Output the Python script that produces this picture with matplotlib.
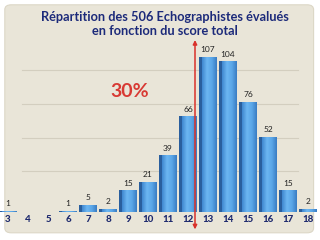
import matplotlib
matplotlib.use("Agg")
import matplotlib.pyplot as plt
from matplotlib.patches import FancyBboxPatch
from matplotlib.colors import LinearSegmentedColormap
import numpy as np

scores = [3, 4, 5, 6, 7, 8, 9, 10, 11, 12, 13, 14, 15, 16, 17, 18]
counts = [1, 0, 0, 1, 5, 2, 15, 21, 39, 66, 107, 104, 76, 52, 15, 2]
title = "Répartition des 506 Echographistes évalués\nen fonction du score total"
annotation = "30%"
grid_values = [28, 51, 74.5, 98]

plt.rcParams['font.family'] = ['Lato', 'DejaVu Sans']

fig = plt.figure(figsize=(3.2, 2.4), dpi=100)
fig.patch.set_facecolor('white')
panel = FancyBboxPatch((0.015, 0.03), 0.965, 0.95, boxstyle="round,pad=0,rounding_size=0.02",
                       transform=fig.transFigure, facecolor='#e9e5d8', edgecolor='#dcd7c6',
                       linewidth=0.8, zorder=-5)
fig.patches.append(panel)

ax = fig.add_axes([0, 0.1167, 1, 0.7167])
ax.set_zorder(2)
ax.set_facecolor('none')
ax.set_xlim(2.6, 18.6)
ax.set_ylim(0, 118.6)
for s in ax.spines.values():
    s.set_visible(False)
ax.set_yticks([])
for g in grid_values:
    ax.axhline(g, xmin=0.07, xmax=0.93, color='#d3cebf', linewidth=0.8, zorder=1)

x = np.array(scores, dtype=float)
cmap = LinearSegmentedColormap.from_list('bar', ['#3f86cf', '#6cb6f2', '#5aa6e8', '#3a7cc2'])
grad = np.linspace(0, 1, 64).reshape(1, -1)

# shadow side for 3D look
ax.bar(x - 0.08, counts, width=0.72, color='#2a5f9e', zorder=2)
bars = ax.bar(x + 0.05, counts, width=0.72, color='#4b97dc', edgecolor='#3270b3', linewidth=0.4, zorder=3)
for b in bars:
    h = b.get_height()
    if h <= 0:
        continue
    x0 = b.get_x()
    w = b.get_width()
    im = ax.imshow(grad, cmap=cmap, aspect='auto', extent=(x0, x0 + w, 0, h),
                   zorder=3.5, interpolation='bilinear')
    im.set_clip_path(b)
ax.set_xlim(2.6, 18.6)
ax.set_ylim(0, 118.6)

for xi, c in zip(x, counts):
    if c > 0:
        ax.text(xi, c + 2.5, str(c), ha='center', va='bottom', fontsize=6, color='#222222', zorder=5)

ax.set_xticks(scores)
ax.set_xticklabels([str(s) for s in scores], fontsize=7, fontweight='black', color='#1e2a6e')
ax.tick_params(axis='x', length=0, pad=2)

ax.annotate('', xy=(12.35, -12), xytext=(12.35, 118.6),
            arrowprops=dict(arrowstyle='<|-|>', color='#d9312b', lw=1.1,
                            mutation_scale=6, shrinkA=0, shrinkB=0),
            annotation_clip=False, zorder=6)

fig.text(0.515, 0.898, title, ha='center', va='center', fontsize=9.2, fontweight='bold',
         color='#1c2a7a', linespacing=1.2)
fig.text(0.405, 0.617, annotation, ha='center', va='center', fontsize=14, fontweight='bold',
         color='#d83a34')

fig.savefig('out.png', dpi=100, facecolor=fig.get_facecolor())
